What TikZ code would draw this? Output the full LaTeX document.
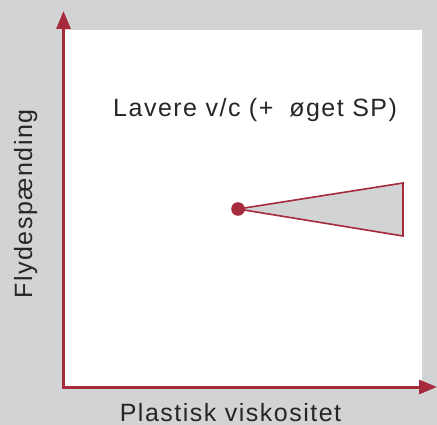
\documentclass[tikz,border=0pt]{standalone}
\usepackage{fontspec}
\setmainfont{Liberation Sans}
\newfontfamily\labelfont[LetterSpace=6]{Liberation Sans}
\usetikzlibrary{arrows.meta}
\definecolor{axisred}{HTML}{A52A3C}
\definecolor{panelgray}{HTML}{D1D3D4}
\tikzset{
  axis/.style={draw=axisred, line width=3pt, -{Triangle[length=18pt,width=14pt]}},
  lbl/.style={font=\labelfont\fontsize{25}{28}\selectfont, text=black!85, inner sep=0pt},
  wedge/.style={draw=axisred, line width=1.6pt, fill=panelgray, line join=miter},
}
\begin{document}
\begin{tikzpicture}[x=1pt,y=-1pt]
  % background and plotting panel
  \fill[panelgray] (0,0) rectangle (437,425);
  \useasboundingbox (0,0) rectangle (437,425);
  \fill[white] (63,30) rectangle (422,387);
  % axes
  \coordinate (origin) at (63.5,387);
  \coordinate (ytip) at (63.5,11);
  \coordinate (xtip) at (437,387);
  \draw[axis] (origin) -- (ytip);
  \draw[axis] ([xshift=-1.5pt]origin) -- (xtip);
  % axis titles
  \node[lbl, rotate=90, anchor=base] (ylab) at (32,204) {Flydespænding};
  \node[lbl, anchor=base] (xlab) at (230.5,421) {Plastisk viskositet};
  % annotation
  \node[lbl, anchor=base west] (note) at (113,117) {Lavere v/c (+\hspace{0.3em} øget SP)};
  % wedge from the starting point
  \coordinate (start) at (238,209);
  \coordinate (wtop) at (403,183);
  \coordinate (wbot) at (403,236);
  \draw[wedge] (start) -- (wtop) -- (wbot) -- cycle;
  \fill[axisred] (start) circle (6.8pt);
\end{tikzpicture}
\end{document}
